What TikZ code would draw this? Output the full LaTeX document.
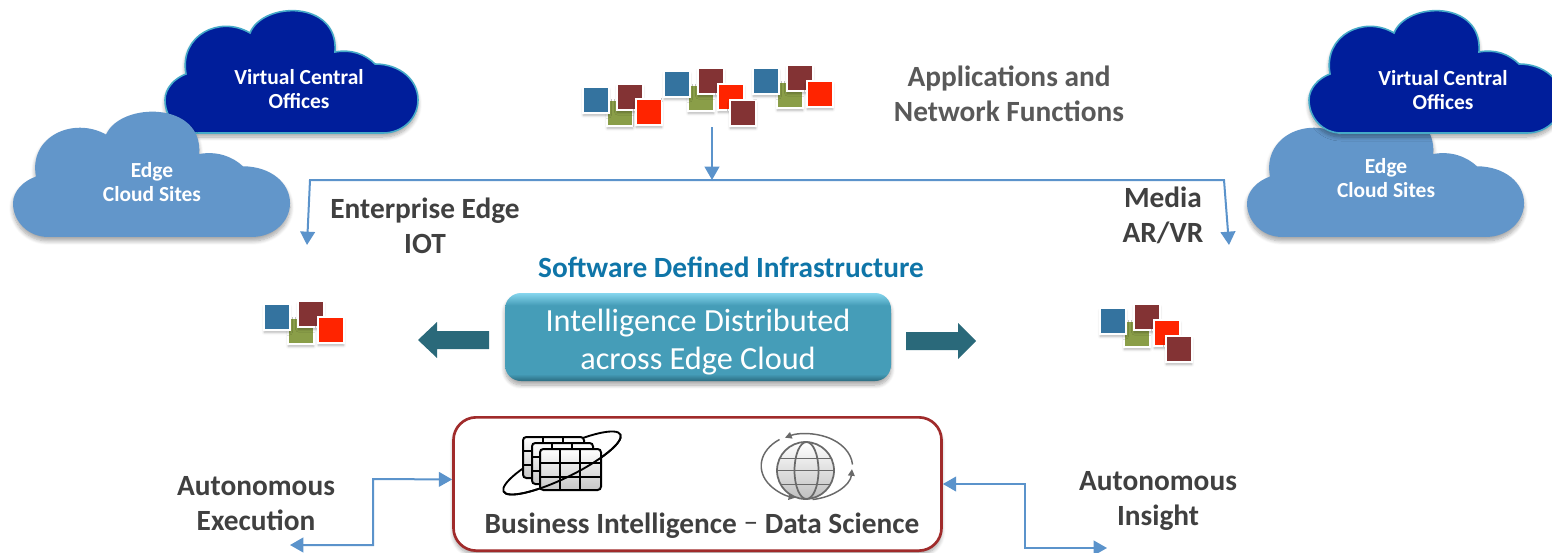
\documentclass[tikz,border=0pt]{standalone}
\usepackage{fontspec}
\setmainfont{Carlito}
\usetikzlibrary{arrows.meta,shadows.blur}
\definecolor{darkcloud}{RGB}{0,30,155}
\definecolor{darkcloudline}{RGB}{70,170,200}
\definecolor{lightcloud}{RGB}{98,150,202}
\definecolor{linkblue}{RGB}{91,147,203}
\definecolor{tileblue}{RGB}{52,115,159}
\definecolor{tilegreen}{RGB}{138,158,72}
\definecolor{tilebrown}{RGB}{131,51,52}
\definecolor{tilered}{RGB}{255,36,0}
\definecolor{labelgray}{RGB}{89,89,89}
\definecolor{labeldark}{RGB}{64,64,64}
\definecolor{infrablue}{RGB}{15,117,168}
\definecolor{boxtop}{RGB}{134,214,238}
\definecolor{boxmid}{RGB}{69,157,184}
\definecolor{boxlow}{RGB}{43,108,128}
\definecolor{arrowteal}{RGB}{42,105,122}
\definecolor{bizred}{RGB}{160,43,43}
\definecolor{globegray}{RGB}{105,105,105}
\pgfdeclareverticalshading{boxbevel}{100bp}{color(0bp)=(boxlow); color(25bp)=(boxlow); color(29bp)=(boxmid); color(68bp)=(boxmid); color(75bp)=(boxtop); color(100bp)=(boxtop)}
\newcommand{\cloudoutline}{(32,123) .. controls (14,123) and (0,108) .. (0,90) .. controls (0,78) and (10,68) .. (21,64) .. controls (14,25) and (55,5) .. (85,23) .. controls (98,-9) and (174,-10) .. (170,42) .. controls (186,39) and (200,44) .. (210,54) .. controls (235,54) and (253,70) .. (253,90) .. controls (253,108) and (238,123) .. (218,123) -- cycle}
\newcommand{\tablecard}[1]{
  \begin{scope}[shift={(#1)}]
    \draw[tablecardbox] (0,0) rectangle (61,41);
    \draw[line width=1pt] (20,0) -- (20,41) (40,0) -- (40,41) (0,14) -- (61,14) (0,28) -- (61,28);
  \end{scope}}
\tikzset{
  softshadow/.style={blur shadow={shadow xshift=0pt,shadow yshift=-3pt,shadow blur radius=3pt,shadow blur steps=8,shadow opacity=35}},
  tileshadow/.style={blur shadow={shadow xshift=0pt,shadow yshift=-2pt,shadow blur radius=2pt,shadow blur steps=5,shadow opacity=30}},
  cloudlight/.style={fill=lightcloud,softshadow},
  clouddark/.style={fill=darkcloud,draw=darkcloudline,line width=1.2pt,softshadow},
  cloudtext/.style={text=white,align=center,font=\fontsize{16.1}{18}\selectfont\bfseries},
  tile/.style={draw=white,line width=1.5pt,minimum size=19pt,inner sep=0pt,tileshadow},
  link/.style={draw=linkblue,line width=1.5pt,-{Triangle[length=10pt,width=11pt]}},
  duplink/.style={draw=linkblue,line width=1.5pt,{Triangle[length=10pt,width=11pt]}-{Triangle[length=10pt,width=11pt]}},
  graylabel/.style={text=labelgray,align=center,font=\fontsize{22}{26.25}\selectfont\bfseries},
  darklabel/.style={text=labeldark,align=center,font=\fontsize{22}{26.25}\selectfont\bfseries},
  distbox/.style={shading=boxbevel,rounded corners=12pt,minimum width=289.5pt,minimum height=66pt,inner sep=0pt,softshadow},
  disttext/.style={text=white,align=center,font=\fontsize{24.2}{28.5}\selectfont},
  bizbox/.style={draw=bizred,fill=white,line width=2pt,rounded corners=17pt,minimum width=366pt,minimum height=100pt,inner sep=0pt,softshadow},
  bigarrow/.style={fill=arrowteal},
  tablecardbox/.style={draw=black,line width=1.5pt,rounded corners=2.5pt,top color=white,bottom color=black!22},
  orbit/.style={draw=globegray,line width=1.1pt,-{Triangle[length=5pt,width=5pt]}}
}
\begin{document}
\begin{tikzpicture}[x=0.75pt,y=-0.75pt]
    \clip (0,0) rectangle (1552,553);
    \path[clouddark,shift={(165,10)}] \cloudoutline;
    \path[cloudlight,shift={(13,111)},xscale=1.095,yscale=1.024] \cloudoutline;
    \path[cloudlight,shift={(1247,111)},xscale=1.095,yscale=1.024] \cloudoutline;
    \path[clouddark,shift={(1309,10)}] \cloudoutline;
    \node (vcoleft) [cloudtext] at (299,89.5) {Virtual Central\\Offices};
    \node (edgeleft) [cloudtext] at (152,182) {Edge\\Cloud Sites};
    \node (vcoright) [cloudtext] at (1443,90.5) {Virtual Central\\Offices};
    \node (edgeright) [cloudtext] at (1386,178) {Edge\\Cloud Sites};

    \node (a1g) [tile,fill=tilegreen] at (620,113) {};
    \node (a1b) [tile,fill=tileblue] at (596,100) {};
    \node (a1m) [tile,fill=tilebrown] at (630,97) {};
    \node (a1r) [tile,fill=tilered] at (649,112) {};
    \node (a2g) [tile,fill=tilegreen] at (701,98) {};
    \node (a2b) [tile,fill=tileblue] at (677,84) {};
    \node (a2m) [tile,fill=tilebrown] at (711,81) {};
    \node (a2r) [tile,fill=tilered] at (731,97) {};
    \node (a2n) [tile,fill=tilebrown] at (743,113) {};
    \node (a3g) [tile,fill=tilegreen] at (790,95) {};
    \node (a3b) [tile,fill=tileblue] at (766,81) {};
    \node (a3m) [tile,fill=tilebrown] at (800,78) {};
    \node (a3r) [tile,fill=tilered] at (820,94) {};

    \node (l1g) [tile,fill=tilegreen] at (301,331) {};
    \node (l1b) [tile,fill=tileblue] at (277,317) {};
    \node (l1m) [tile,fill=tilebrown] at (311,314) {};
    \node (l1r) [tile,fill=tilered] at (331,330) {};

    \node (r1g) [tile,fill=tilegreen] at (1137,334) {};
    \node (r1b) [tile,fill=tileblue] at (1113,321) {};
    \node (r1m) [tile,fill=tilebrown] at (1147,317) {};
    \node (r1r) [tile,fill=tilered] at (1167,333) {};
    \node (r1n) [tile,fill=tilebrown] at (1179,349) {};

    \node (appstext) [graylabel] at (1009,93.5) {Applications and\\Network Functions};
    \node (enttext) [darklabel] at (425,225.5) {Enterprise Edge\\IOT};
    \node (mediatext) [darklabel] at (1163,215) {Media\\AR/VR};
    \node (sditext) [text=infrablue,font=\fontsize{22}{26.25}\selectfont\bfseries] at (731,267) {Software Defined Infrastructure};
    \node (exectext) [darklabel] at (256,503.5) {Autonomous\\Execution};
    \node (insighttext) [darklabel] at (1158,500.5) {Autonomous\\Insight};

    \coordinate (appsout) at (712,127);
    \coordinate (busmid) at (712,180);
    \coordinate (busleft) at (310,180);
    \coordinate (entin) at (307,245);
    \coordinate (busright) at (1224,180);
    \coordinate (mediain) at (1229,245);
    \draw[link] (appsout) -- (busmid);
    \draw[link] (busmid) -- (busleft) -- (entin);
    \draw[link] (busmid) -- (busright) -- (mediain);

    \node (dist) [distbox] at (698,337) {};
    \node (disttext) [disttext] at (698,342.5) {Intelligence Distributed\\across Edge Cloud};
    \path[bigarrow] (489,331) -- (437,331) -- (437,322) -- (418,340) -- (437,358) -- (437,349) -- (489,349) -- cycle;
    \path[bigarrow] (906,332) -- (958,332) -- (958,323) -- (976,341) -- (958,359) -- (958,350) -- (906,350) -- cycle;

    \node (biz) [bizbox] at (697.5,484) {};
    \node (biztext) [darklabel] at (702,526) {Business Intelligence \textmd{\raisebox{2pt}{–}} Data Science};

    \coordinate (execbend) at (373,479);
    \coordinate (execdown) at (373,545);
    \coordinate (execend) at (290,545);
    \coordinate (insbend) at (1025,484);
    \coordinate (insdown) at (1025,548);
    \coordinate (insend) at (1107,548);
    \draw[duplink] ([yshift=3.4pt]biz.west) -- (execbend) -- (execdown) -- (execend);
    \draw[duplink] (biz.east) -- (insbend) -- (insdown) -- (insend);

    \draw[black,line width=1.4pt] (562,463) ellipse [x radius=65,y radius=15,rotate=26];
    \tablecard{523,437}
    \tablecard{532,443}
    \tablecard{540,449}
    \draw[black,line width=1.4pt,rotate around={26:(562,463)}] (497,463) arc [start angle=180,end angle=360,x radius=65,y radius=-15];

    \draw[draw=globegray,line width=1.3pt,top color=white,bottom color=black!25] (805.5,470.5) circle [radius=28.5];
    \draw[draw=globegray,line width=1.3pt] (806.5,470.5) ellipse [x radius=12,y radius=28.5];
    \draw[draw=globegray,line width=1.1pt] (779.5,458.5) -- (831.5,458.5) (777,470.5) -- (834,470.5) (780.5,484.5) -- (830.5,484.5);
    \draw[orbit] (852.5,464.5) arc [start angle=-4,end angle=-118,x radius=46,y radius=33];
    \draw[orbit] (812.5,499.5) arc [start angle=82,end angle=4,x radius=46,y radius=33];
    \draw[orbit] (779.5,439.5) arc [start angle=-127,end angle=-255,x radius=46,y radius=33];
\end{tikzpicture}
\end{document}
